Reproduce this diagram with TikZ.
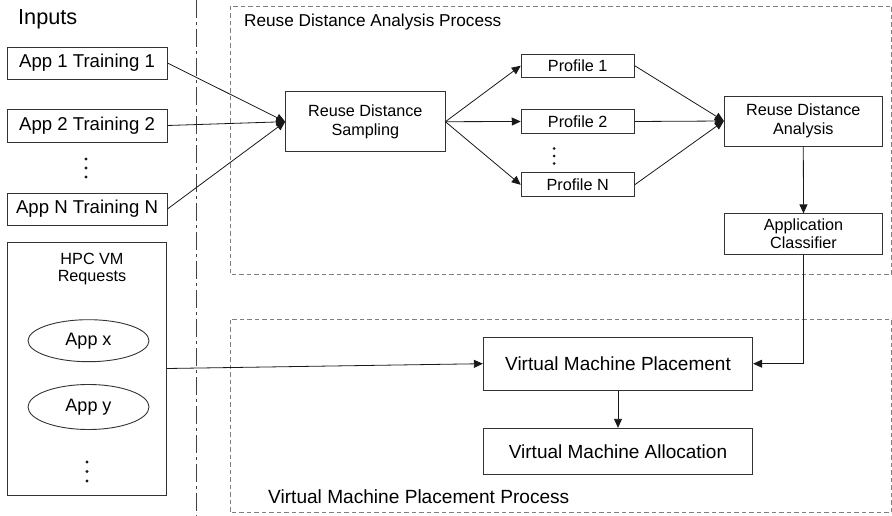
\documentclass[tikz,border=0pt]{standalone}
\usepackage{fontspec}
\setmainfont{Liberation Sans}
\usetikzlibrary{arrows.meta,shapes.geometric,calc}
\begin{document}
\begin{tikzpicture}[x=1pt,y=-1pt,
  box/.style={draw=black!80,line width=0.9pt,rectangle,inner sep=0pt,text=black,align=center},
  arr/.style={-{Triangle[length=9pt,width=8pt]},draw=black!90,line width=0.8pt},
  grp/.style={draw=black!50,line width=0.9pt,dash pattern=on 4.5pt off 3pt},
  sep/.style={draw=black!75,line width=1pt,dash pattern=on 18pt off 4pt on 3pt off 4pt},
  dot/.style={circle,fill=black!90,inner sep=0pt,minimum size=3.4pt},
  fA/.style={font=\fontsize{18.6}{20}\selectfont},
  fB/.style={font=\fontsize{16.2}{18.4}\selectfont},
  fC/.style={font=\fontsize{19}{21}\selectfont},
  fT/.style={font=\fontsize{17.2}{19}\selectfont},
  fV/.style={font=\fontsize{19.1}{21}\selectfont},
]
\useasboundingbox (0,0) rectangle (892,516);
% separator and groups
\coordinate (septop) at (196,0);
\coordinate (sepbot) at (196,516);
\draw[sep] (septop) -- (sepbot);
\draw[grp] (230,6) rectangle (891.5,274.5);
\draw[grp] (230,319.5) rectangle (891.5,512.7);
\node[anchor=base west,inner sep=0pt,font=\fontsize{21.7}{24}\selectfont,text=black] (inputs) at (18,25) {Inputs};
\node[anchor=base west,inner sep=0pt,fT,text=black] (rdatitle) at (244,27) {Reuse Distance Analysis Process};
\node[anchor=base west,inner sep=0pt,fV,text=black] (vmptitle) at (268,503) {Virtual Machine Placement Process};
% inputs
\node[box,fA,minimum width=160pt,minimum height=32pt] (t1) at (87,63) {App 1 Training 1};
\node[box,fA,minimum width=160pt,minimum height=33pt] (t2) at (87,125.5) {App 2 Training 2};
\node[dot] (d1a) at (86,159) {};
\node[dot] (d1b) at (86,168) {};
\node[dot] (d1c) at (86,177) {};
\node[box,fA,minimum width=160pt,minimum height=32pt] (tN) at (87,209) {App N Training N};
% HPC
\node[box,minimum width=159.5pt,minimum height=253pt] (hpc) at (87,368.5) {};
\node[inner sep=0pt,align=center,text=black,font=\fontsize{16.2}{17.3}\selectfont] (hpct) at (92,269) {HPC VM\\Requests};
\node[ellipse,draw=black!80,line width=0.9pt,minimum width=121pt,minimum height=42pt,inner sep=0pt,text=black,font=\fontsize{18}{20}\selectfont] (appx) at (88.5,340.7) {App x};
\node[ellipse,draw=black!80,line width=0.9pt,minimum width=121pt,minimum height=45pt,inner sep=0pt,text=black,font=\fontsize{18}{20}\selectfont] (appy) at (88.5,407) {App y};
\node[dot] (d2a) at (87,462) {};
\node[dot] (d2b) at (87,471.5) {};
\node[dot] (d2c) at (87,481) {};
% RDA process
\node[box,fB,minimum width=159.3pt,minimum height=60pt] (rds) at (365.3,121.7) {Reuse Distance\\Sampling};
\node[box,fB,minimum width=113pt,minimum height=23.3pt] (p1) at (577.7,65.7) {Profile 1};
\node[box,fB,minimum width=113pt,minimum height=23.3pt] (p2) at (577.7,121.5) {Profile 2};
\node[dot,minimum size=3pt] (d3a) at (554,148.5) {};
\node[dot,minimum size=3pt] (d3b) at (554,156) {};
\node[dot,minimum size=3pt] (d3c) at (554,163.5) {};
\node[box,fB,minimum width=113pt,minimum height=23.7pt] (pN) at (577.7,184.8) {Profile N};
\node[box,fB,minimum width=158pt,minimum height=50pt] (rda) at (803.3,121) {Reuse Distance\\Analysis};
\node[box,font=\fontsize{16.2}{17.6}\selectfont,minimum width=158.4pt,minimum height=40.3pt] (cls) at (803.5,234) {Application\\Classifier};
% VMP process
\node[box,fC,minimum width=269.4pt,minimum height=52.7pt] (vmp) at (618,363.7) {Virtual Machine Placement};
\node[box,fC,minimum width=269.4pt,minimum height=46pt] (vma) at (618,451.3) {Virtual Machine Allocation};
% connectors
\draw[arr] (t1.east) -- (rds.west);
\draw[arr] (t2.east) -- (rds.west);
\draw[arr] (tN.east) -- (rds.west);
\draw[arr] (rds.east) -- (p1.west);
\draw[arr] (rds.east) -- (p2.west);
\draw[arr] (rds.east) -- (pN.west);
\draw[arr] (p1.east) -- (rda.west);
\draw[arr] (p2.east) -- (rda.west);
\draw[arr] (pN.east) -- (rda.west);
\draw[arr] (rda.south) -- (cls.north);
\draw[arr] (cls.south) |- (vmp.east);
\draw[arr] (hpc.east) -- (vmp.west);
\draw[arr] (vmp.south) -- (vma.north);
\end{tikzpicture}
\end{document}
